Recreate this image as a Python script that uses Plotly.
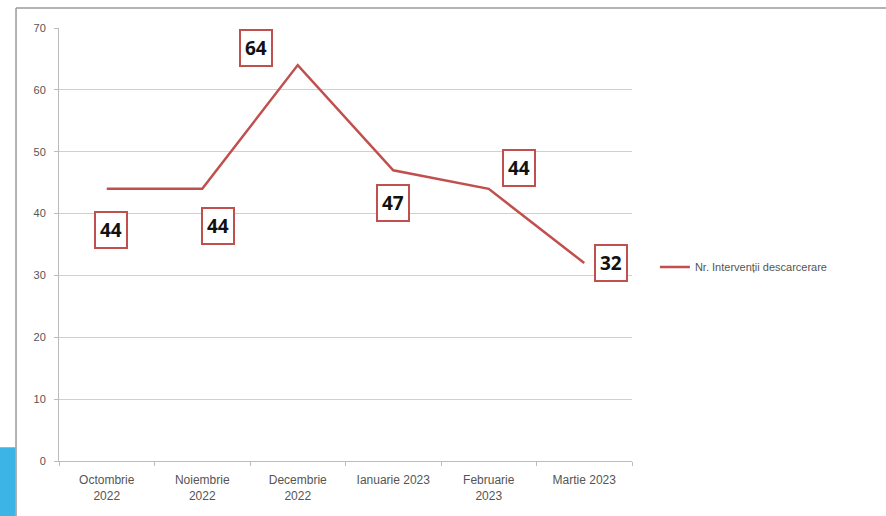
import plotly.graph_objects as go

categories = ["Octombrie<br>2022", "Noiembrie<br>2022", "Decembrie<br>2022",
              "Ianuarie 2023", "Februarie<br>2023", "Martie 2023"]
values = [44, 44, 64, 47, 44, 32]
series_name = "Nr. Intervenții descarcerare"
y_ticks = [0, 10, 20, 30, 40, 50, 60, 70]

# label offsets (pixels) relative to each point
label_offsets = [(4, 41), (16, 37), (-42, -17), (0, 33), (30, -21), (27, 0)]

RED = "#C0504D"
fig = go.Figure()
fig.add_trace(go.Scatter(
    x=categories, y=values, mode="lines", name=series_name,
    line=dict(color=RED, width=2.5),
))

for c, v, (dx, dy) in zip(categories, values, label_offsets):
    fig.add_annotation(
        x=c, y=v, text=f"<b>{v}</b>", showarrow=True, ax=dx, ay=dy,
        arrowcolor="rgba(0,0,0,0)", arrowwidth=0.1,
        font=dict(family="Open Sans, Noto Sans, sans-serif", size=19, color="#111"),
        bgcolor="white", bordercolor=RED, borderwidth=2, borderpad=4,
    )

# outer frame and decoration
fig.add_shape(type="line", xref="paper", yref="paper", x0=-0.075, x1=1.5, y0=1.046, y1=1.046,
              line=dict(color="#9a9a9a", width=1.5))
fig.add_shape(type="line", xref="paper", yref="paper", x0=-0.075, x1=-0.075, y0=1.046, y1=-0.15,
              line=dict(color="#9a9a9a", width=1.5))
fig.add_shape(type="rect", xref="paper", yref="paper", x0=-0.103, x1=-0.076, y0=0.032, y1=-0.15,
              line=dict(width=0), fillcolor="#3CB4E5")

fig.update_layout(
    width=886, height=516,
    margin=dict(l=59, r=254, t=28, b=55),
    paper_bgcolor="white", plot_bgcolor="white",
    font=dict(family="Liberation Sans Narrow, Liberation Sans, sans-serif", color="#555", size=11),
    showlegend=True,
    legend=dict(x=1.04, y=0.448, xanchor="left", yanchor="middle",
                font=dict(size=11, color="#555"), bgcolor="rgba(0,0,0,0)"),
    xaxis=dict(range=[-0.5, 5.5], showgrid=False, showline=True, linecolor="#bbb",
               ticks="outside", tickson="boundaries", ticklen=4, tickcolor="#bbb",
               ticklabelstandoff=8,
               tickfont=dict(size=12, color="#555")),
    yaxis=dict(range=[0, 70], tickvals=y_ticks, showgrid=True, gridcolor="#d0d0d0",
               showline=True, linecolor="#bbb", zeroline=False,
               ticks="outside", ticklen=4, tickcolor="#bbb",
               ticklabelstandoff=6,
               tickfont=dict(size=11, color="#555")),
)

fig.write_html("out.html", config={"displayModeBar": False},
               post_script="document.body.style.margin='0';document.body.style.overflow='hidden';")
